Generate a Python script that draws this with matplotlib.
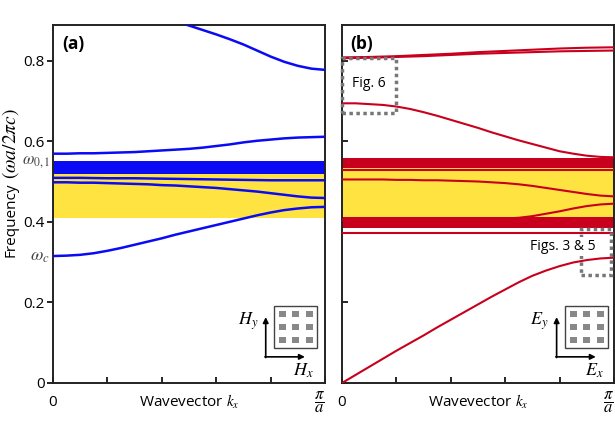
import matplotlib
matplotlib.use('Agg')
import matplotlib.pyplot as plt
import matplotlib.transforms as mtransforms
from matplotlib.patches import Rectangle

plt.rcParams['font.family'] = ['Open Sans', 'DejaVu Sans']
plt.rcParams['mathtext.fontset'] = 'stix'

# ---------------- data ----------------
k = [0.0, 0.1, 0.2, 0.3, 0.4, 0.5, 0.6, 0.7, 0.8, 0.9, 1.0]
kf = [0.0, 0.05, 0.1, 0.15, 0.2, 0.25, 0.3, 0.35, 0.4, 0.45, 0.5,
      0.55, 0.6, 0.65, 0.7, 0.75, 0.8, 0.85, 0.9, 0.95, 1.0]

# panel (a): blue bands
a_top = [0.948, 0.947, 0.945, 0.942, 0.937, 0.931, 0.924, 0.916, 0.907, 0.897, 0.887,
         0.876, 0.865, 0.853, 0.840, 0.825, 0.810, 0.797, 0.787, 0.780, 0.777]
a_upper = [0.569, 0.569, 0.570, 0.570, 0.571, 0.572, 0.573, 0.575, 0.577, 0.579, 0.581,
           0.584, 0.588, 0.592, 0.597, 0.601, 0.604, 0.607, 0.609, 0.610, 0.611]
a_band_lo = [0.519, 0.519, 0.519, 0.519, 0.519, 0.519, 0.519, 0.519, 0.519, 0.519, 0.519]
a_band_hi = [0.552, 0.552, 0.552, 0.552, 0.552, 0.552, 0.552, 0.552, 0.552, 0.552, 0.552]
a_flat = [0.509, 0.509, 0.508, 0.508, 0.507, 0.506, 0.505, 0.504, 0.503, 0.503, 0.503]
a_desc = [0.498, 0.498, 0.497, 0.497, 0.496, 0.495, 0.494, 0.493, 0.491, 0.490, 0.488,
          0.486, 0.484, 0.481, 0.478, 0.475, 0.471, 0.467, 0.463, 0.460, 0.459]
a_low = [0.315, 0.316, 0.318, 0.322, 0.328, 0.335, 0.343, 0.351, 0.359, 0.368, 0.376,
         0.384, 0.392, 0.400, 0.408, 0.416, 0.423, 0.429, 0.433, 0.436, 0.437]
a_gap = [0.410, 0.520]

# panel (b): red bands
b_top1 = [0.808, 0.809, 0.811, 0.814, 0.817, 0.821, 0.824, 0.827, 0.830, 0.832, 0.833]
b_top2 = [0.806, 0.807, 0.809, 0.811, 0.814, 0.817, 0.819, 0.821, 0.823, 0.824, 0.825]
b_desc_hi = [0.694, 0.694, 0.692, 0.690, 0.686, 0.680, 0.672, 0.663, 0.653, 0.643, 0.633,
             0.622, 0.612, 0.602, 0.593, 0.584, 0.575, 0.569, 0.564, 0.561, 0.560]
b_band1_lo = [0.534, 0.534, 0.534, 0.534, 0.534, 0.534, 0.534, 0.534, 0.534, 0.534, 0.534]
b_band1_hi = [0.558, 0.558, 0.558, 0.558, 0.558, 0.558, 0.558, 0.558, 0.558, 0.558, 0.558]
b_flat = [0.528, 0.528, 0.528, 0.528, 0.528, 0.528, 0.528, 0.528, 0.528, 0.528, 0.528]
b_desc = [0.505, 0.505, 0.505, 0.505, 0.504, 0.504, 0.503, 0.503, 0.502, 0.501, 0.500,
          0.498, 0.496, 0.493, 0.489, 0.484, 0.479, 0.474, 0.469, 0.465, 0.463]
b_rise = [0.405, 0.405, 0.405, 0.405, 0.405, 0.405, 0.405, 0.405, 0.406, 0.406, 0.407,
          0.407, 0.408, 0.410, 0.414, 0.420, 0.426, 0.433, 0.439, 0.443, 0.445]
b_band2_lo = [0.385, 0.385, 0.385, 0.385, 0.385, 0.385, 0.385, 0.385, 0.385, 0.385, 0.385]
b_band2_hi = [0.412, 0.412, 0.412, 0.412, 0.412, 0.412, 0.412, 0.412, 0.412, 0.412, 0.412]
b_thin = [0.372, 0.372, 0.372, 0.372, 0.372, 0.372, 0.372, 0.372, 0.372, 0.372, 0.372]
b_low = [0.000, 0.020, 0.040, 0.060, 0.080, 0.099, 0.118, 0.138, 0.157, 0.176, 0.195,
         0.214, 0.232, 0.250, 0.266, 0.279, 0.290, 0.299, 0.305, 0.309, 0.311]
b_gap = [0.412, 0.534]

yticks = [0, 0.2, 0.4, 0.6, 0.8]
ytick_labels = ['0', '0.2', '0.4', '0.6', '0.8']
xticks = [0, 0.2, 0.4, 0.6, 0.8, 1.0]
xtick_labels = ['0', '', '', '', '', r'$\dfrac{\pi}{a}$']

BLUE = '#0a0af5'
RED = '#c8001e'
YELLOW = '#ffe340'
GRAY = '#777777'

fig = plt.figure(figsize=(6.15, 4.26), dpi=100)
ax_a = fig.add_axes([0.0862, 0.101, 0.4423, 0.840])
ax_b = fig.add_axes([0.5561, 0.101, 0.4423, 0.840])

for ax in (ax_a, ax_b):
    ax.set_xlim(0, 1)
    ax.set_ylim(0, 0.888)
    ax.set_xticks(xticks)
    ax.set_xticklabels(xtick_labels, fontsize=11)
    labs = ax.get_xticklabels()
    for lab in labs:
        lab.set_va('center')
    labs[-1].set_ha('right')
    labs[-1].set_fontsize(12)
    ax.tick_params(axis='x', direction='in', length=4, width=1.2, pad=14)
    for s in ax.spines.values():
        s.set_linewidth(1.4)
        s.set_color('#222222')
    ax.set_xlabel(r'Wavevector $k_x$', fontsize=11)
    ax.xaxis.set_label_coords(0.5, -0.053)
    ax.xaxis.label.set_va('center')

# ---- panel (a)
ax = ax_a
ax.axhspan(a_gap[0], a_gap[1], color=YELLOW, lw=0, zorder=1)
ax.fill_between(k, a_band_lo, a_band_hi, color=BLUE, lw=0, zorder=2)
for xv, yv in ((kf, a_top), (kf, a_upper), (k, a_flat), (kf, a_desc), (kf, a_low)):
    ax.plot(xv, yv, color=BLUE, lw=1.8, zorder=3, solid_capstyle='butt')
ax.set_yticks(yticks)
ax.set_yticklabels(ytick_labels, fontsize=11)
ax.tick_params(axis='y', direction='out', length=4, width=1.2, pad=2)
ax.set_ylabel('Frequency', fontsize=11)
ax.yaxis.set_label_coords(-0.155, 0.352)
ax.yaxis.label.set_va('center')
ax.yaxis.label.set_ha('left')
ax.yaxis.label.set_rotation_mode('anchor')
ax.text(-0.158, 0.570, r'$(\omega a/2\pi c)$', transform=ax.transAxes, rotation=90,
        fontsize=14, ha='left', va='center', rotation_mode='anchor')
trans = mtransforms.blended_transform_factory(ax.transAxes, ax.transData)
ax.text(-0.008, 0.548, r'$\omega_{\mathit{0,1}}$', transform=trans, ha='right', va='center',
        fontsize=12, color='#444444')
ax.text(-0.012, 0.315, r'$\omega_c$', transform=trans, ha='right', va='center',
        fontsize=13, color='#444444')
ax.text(0.033, 0.947, '(a)', transform=ax.transAxes, fontsize=12.5, fontweight='bold',
        ha='left', va='center')

# ---- panel (b)
ax = ax_b
ax.axhspan(b_gap[0], b_gap[1], color=YELLOW, lw=0, zorder=1)
ax.fill_between(k, b_band1_lo, b_band1_hi, color=RED, lw=0, zorder=2)
ax.fill_between(k, b_band2_lo, b_band2_hi, color=RED, lw=0, zorder=2)
for xv, yv in ((k, b_top1), (k, b_top2), (kf, b_desc_hi), (k, b_flat), (kf, b_desc),
               (kf, b_rise), (k, b_thin), (kf, b_low)):
    ax.plot(xv, yv, color=RED, lw=1.5, zorder=3, solid_capstyle='butt')
ax.set_yticks(yticks)
ax.set_yticklabels([])
ax.tick_params(axis='y', direction='in', length=4, width=1.2)
ax.text(0.03, 0.947, '(b)', transform=ax.transAxes, fontsize=12.5, fontweight='bold',
        ha='left', va='center')

# annotation boxes
ax.add_patch(Rectangle((0.0, 0.670), 0.2, 0.136, fill=False, ec=GRAY, lw=2.5,
                       ls=(0, (1, 1)), zorder=5, clip_on=False))
ax.text(0.1, 0.744, 'Fig. 6', fontsize=10, ha='center', va='center', zorder=6)
ax.add_patch(Rectangle((0.88, 0.269), 0.11, 0.114, fill=False, ec=GRAY, lw=2.5,
                       ls=(0, (1, 1)), zorder=5, clip_on=False))
ax.text(0.81, 0.338, 'Figs. 3 & 5', fontsize=10, ha='center', va='center', zorder=6,
        bbox=dict(fc='white', ec='none', pad=1.5))


def lattice(ax, corner_x, label_x, label_y):
    tr = ax.transAxes
    bx0, by0, bw, bh = corner_x + 0.031, 0.098, 0.159, 0.117
    ax.add_patch(Rectangle((bx0, by0), bw, bh, transform=tr, fc='white', ec='#444444',
                           lw=1.0, zorder=7))
    s = 0.16
    for fx in (0.19, 0.5, 0.81):
        for fy in (0.19, 0.5, 0.81):
            ax.add_patch(Rectangle((bx0 + (fx - s / 2) * bw, by0 + (fy - s / 2) * bh),
                                   s * bw, s * bh, transform=tr, fc='#888888', ec='none',
                                   zorder=8))
    cy = 0.073
    ax.annotate('', xy=(corner_x, 0.184), xytext=(corner_x, cy - 0.002), xycoords=tr,
                arrowprops=dict(arrowstyle='-|>', color='black', lw=1.2, mutation_scale=8,
                                shrinkA=0, shrinkB=0), zorder=9)
    ax.annotate('', xy=(corner_x + 0.144, cy), xytext=(corner_x - 0.003, cy), xycoords=tr,
                arrowprops=dict(arrowstyle='-|>', color='black', lw=1.2, mutation_scale=8,
                                shrinkA=0, shrinkB=0), zorder=9)
    ax.text(corner_x - 0.065, 0.172, label_y, transform=tr, fontsize=13, ha='center',
            va='center', zorder=9)
    ax.text(corner_x + 0.14, 0.033, label_x, transform=tr, fontsize=13, ha='center',
            va='center', zorder=9)


lattice(ax_a, 0.782, r'$H_x$', r'$H_y$')
lattice(ax_b, 0.789, r'$E_x$', r'$E_y$')

fig.savefig('out.png', dpi=100)
